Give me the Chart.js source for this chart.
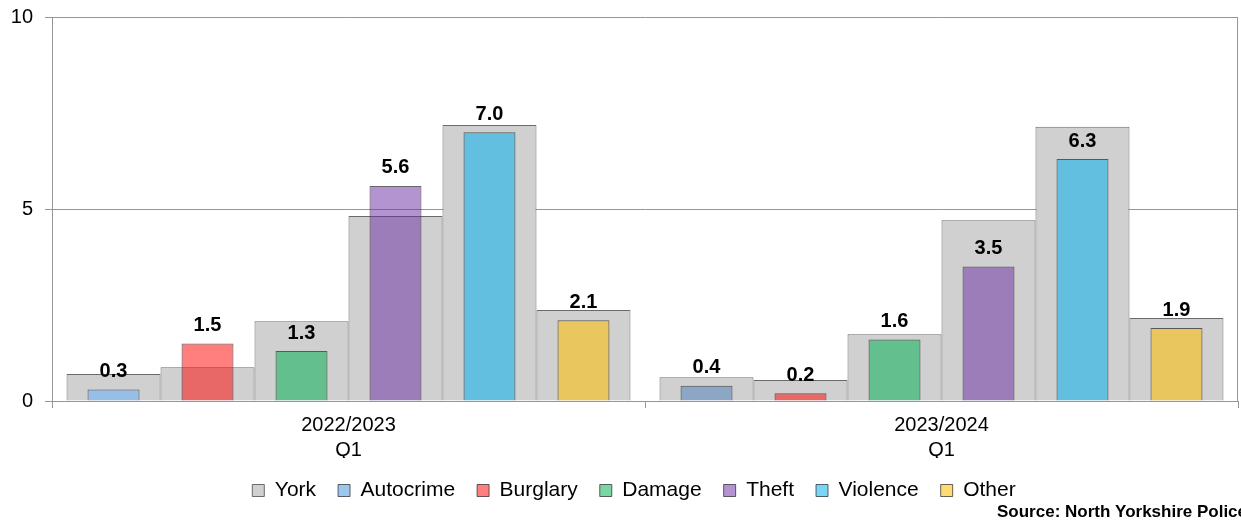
<!DOCTYPE html>
<html>
<head>
<meta charset="utf-8">
<script src="https://cdn.jsdelivr.net/npm/chart.js@4/dist/chart.umd.min.js"></script>
<style>
  html, body { margin: 0; padding: 0; background: #fff; }
  #wrap { width: 1241px; height: 523px; position: relative; }
</style>
</head>
<body>
<div id="wrap"><canvas id="chart"></canvas></div>
<script>
const periods = [["2022/2023", "Q1"], ["2023/2024", "Q1"]]
const crimeTypes = ["Autocrime", "Burglary", "Damage", "Theft", "Violence", "Other"]
// one colour per period for each crime (autocrime differs between the two)
const crimeColors = [
  ["rgba(140,188,236,0.85)", "rgba(79,129,189,0.52)"],
  ["rgba(255,0,0,0.5)", "rgba(255,0,0,0.5)"],
  ["rgba(0,176,80,0.52)", "rgba(0,176,80,0.52)"],
  ["rgba(103,41,161,0.5)", "rgba(103,41,161,0.5)"],
  ["rgba(0,176,240,0.52)", "rgba(0,176,240,0.52)"],
  ["rgba(255,192,0,0.55)", "rgba(255,192,0,0.55)"]
]

// York (grey, behind) per crime type
const york2022 = [0.7, 0.88, 2.08, 4.82, 7.19, 2.37]
const york2023 = [0.62, 0.55, 1.74, 4.71, 7.14, 2.16]
// coloured bars, labelled
const nyp2022 = [0.3, 1.5, 1.3, 5.6, 7.0, 2.1]
const nyp2023 = [0.4, 0.2, 1.6, 3.5, 6.3, 1.9]

const yTicks = [0, 5, 10]
const gridColor = "#969696"

Chart.defaults.font.family = "Arial, 'Liberation Sans', sans-serif"
Chart.defaults.color = "#000"

// coloured bars first so they are drawn on top of the grey ones;
// each crime shares a "stack" slot with its York bar (values not summed)
const crimeSets = crimeTypes.map((name, i) => ({
  label: name,
  data: [nyp2022[i], nyp2023[i]],
  stack: "s" + i,
  backgroundColor: crimeColors[i],
  borderColor: "rgba(30,30,30,0.68)",
  borderWidth: 1,
  barPercentage: 0.553,
  categoryPercentage: 0.951
}))

const yorkSets = crimeTypes.map((name, i) => ({
  label: "York",
  data: [york2022[i], york2023[i]],
  stack: "s" + i,
  backgroundColor: "#d0d0d0",
  borderColor: "#6a6a6a",
  borderWidth: 1,
  barPercentage: 1,
  categoryPercentage: 0.951
}))

const valueLabels = {
  id: "valueLabels",
  afterDatasetsDraw(chart) {
    const ctx = chart.ctx
    ctx.save()
    ctx.font = "bold 20px Arial, 'Liberation Sans', sans-serif"
    ctx.fillStyle = "#000"
    ctx.textAlign = "center"
    ctx.textBaseline = "bottom"
    crimeSets.forEach((ds, i) => {
      chart.getDatasetMeta(i).data.forEach((bar, j) => {
        ctx.fillText(ds.data[j].toFixed(1), bar.x, bar.y - 8)
      })
    })
    ctx.restore()
  }
}

const frame = {
  id: "frame",
  afterLayout(chart) {
    // legend sits a little right of centre in the original
    chart.legend.left += 15
    chart.legend.right += 15
  },
  afterDraw(chart) {
    const { ctx, chartArea } = chart
    ctx.save()
    ctx.strokeStyle = gridColor
    ctx.lineWidth = 1
    ctx.beginPath()
    ctx.moveTo(Math.round(chartArea.right) - 0.5, chartArea.top)
    ctx.lineTo(Math.round(chartArea.right) - 0.5, chartArea.bottom)
    ctx.stroke()
    ctx.font = "bold 17px Arial, 'Liberation Sans', sans-serif"
    ctx.fillStyle = "#000"
    ctx.textAlign = "left"
    ctx.textBaseline = "middle"
    ctx.fillText("Source: North Yorkshire Police", 997, 512)
    ctx.restore()
  }
}

new Chart(document.getElementById("chart"), {
  type: "bar",
  data: {
    labels: periods,
    datasets: [...crimeSets, ...yorkSets]
  },
  options: {
    responsive: true,
    maintainAspectRatio: false,
    animation: false,
    layout: { padding: { top: 17, right: 3, bottom: 12, left: 0 } },
    scales: {
      y: {
        min: 0,
        max: 10,
        stacked: false,
        z: 1,
        afterFit: (scale) => {
          scale.width = 52
          scale.paddingTop = 0
          scale.paddingBottom = 0
        },
        afterBuildTicks: (scale) => { scale.ticks = yTicks.map(v => ({ value: v })) },
        grid: { color: gridColor, tickLength: 7 },
        border: { color: gridColor },
        ticks: { padding: 12, font: { size: 20 }, color: "#000" }
      },
      x: {
        offset: true,
        afterFit: (scale) => { scale.height = 57 },
        grid: { color: gridColor, drawOnChartArea: false, tickLength: 7, offset: true },
        border: { color: gridColor },
        ticks: { padding: 5, font: { size: 20, lineHeight: 1.25 }, color: "#000", maxRotation: 0 }
      }
    },
    plugins: {
      tooltip: { enabled: false },
      legend: {
        position: "bottom",
        labels: {
          boxWidth: 12,
          boxHeight: 12,
          padding: 22,
          font: { size: 21 },
          color: "#000",
          filter: (item) => item.datasetIndex <= 6,
          sort: (a, b) => (a.datasetIndex >= 6 ? -1 : a.datasetIndex) - (b.datasetIndex >= 6 ? -1 : b.datasetIndex)
        }
      }
    }
  },
  plugins: [valueLabels, frame]
})
</script>
</body>
</html>
